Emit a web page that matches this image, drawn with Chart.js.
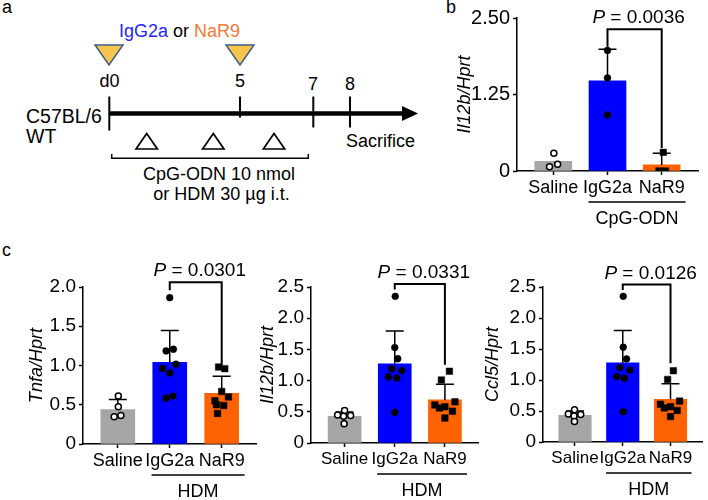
<!DOCTYPE html>
<html lang="en">
<head>
  <meta charset="UTF-8">
  <title>IgG2a vs NaR9 cytokine expression</title>
  <script src="https://cdn.jsdelivr.net/npm/chart.js"></script>
  <style>
    body { margin: 0; background: #fff; }
    #fig { position: relative; width: 708px; height: 500px; overflow: hidden; }
    #fig svg, #fig canvas { position: absolute; }
    svg text { font-family: 'Liberation Sans', Arial, sans-serif; font-size: 18px; fill: #000; }
  </style>
</head>
<body>
<div id="fig">
  <!-- panel a: protocol timeline + panel letters -->
  <svg width="708" height="500" style="left:0;top:0">
    <text x="2" y="13">a</text>
    <text x="446" y="13">b</text>
    <text x="2" y="256">c</text>

    <text x="119" y="37"><tspan fill="#2424ff">IgG2a</tspan> or <tspan fill="#f47a36">NaR9</tspan></text>
    <polygon points="95,45 123,45 109,65" fill="#f6c54c" stroke="#3e5d8c" stroke-width="1.5"/>
    <polygon points="226,45 254,45 240,65" fill="#f6c54c" stroke="#3e5d8c" stroke-width="1.5"/>

    <text x="109.5" y="87" text-anchor="middle">d0</text>
    <text x="240" y="87" text-anchor="middle">5</text>
    <text x="313" y="90" text-anchor="middle">7</text>
    <text x="350" y="90" text-anchor="middle">8</text>

    <line x1="109" y1="113.5" x2="404" y2="113.5" stroke="#000" stroke-width="4.5"/>
    <polygon points="402,106 418,113.5 402,121" fill="#000"/>
    <g stroke="#000" stroke-width="2">
      <line x1="109.3" y1="96.5" x2="109.3" y2="130.5"/>
      <line x1="240" y1="96.5" x2="240" y2="117.5"/>
      <line x1="313.3" y1="96.5" x2="313.3" y2="127.5"/>
      <line x1="350" y1="96.5" x2="350" y2="127.5"/>
    </g>

    <text x="26" y="123" style="font-size:19.5px">C57BL/6</text>
    <text x="26" y="143" style="font-size:19.5px">WT</text>
    <text x="346" y="147">Sacrifice</text>

    <g fill="none" stroke="#000" stroke-width="1.7">
      <polygon points="136,149 146.7,133.5 157.4,149"/>
      <polygon points="202.6,149 213.3,133.5 224,149"/>
      <polygon points="263.3,149 274,133.5 284.7,149"/>
      <path d="M111.7,154 V158.3 H308.3 V154" stroke-width="1.5"/>
    </g>
    <text x="219" y="180" text-anchor="middle">CpG-ODN 10 nmol</text>
    <text x="221.5" y="200" text-anchor="middle">or HDM 30 µg i.t.</text>
  </svg>

  <canvas id="chartB" width="278" height="230" style="left:430px;top:0"></canvas>
  <canvas id="chartC1" width="262" height="260" style="left:0;top:240px"></canvas>
  <canvas id="chartC2" width="244" height="260" style="left:240px;top:240px"></canvas>
  <canvas id="chartC3" width="238" height="260" style="left:470px;top:240px"></canvas>
</div>

<script>
  const groups = ['Saline', 'IgG2a', 'NaR9'];
  const barColors = ['#a6a6a6', '#0000ff', '#ff6200'];

  // b: Il12b/Hprt, CpG-ODN
  const bMean = [0.158, 1.475, 0.10];
  const bSD = [0, 0.515, 0.19];
  const bSaline = [0.29, 0.07, 0.11];
  const bSalineDx = [0.01, -0.07, 0.08];
  const bIgG2a = [1.97, 1.52, 0.915];
  const bIgG2aDx = [0, 0, 0];
  const bNaR9 = [0.305, 0.0, 0.0];
  const bNaR9Dx = [0.03, -0.05, 0.07];
  const bTickValues = [0, 1.25, 2.5];
  const bTickLabels = ['0', '1.25', '2.50'];

  // c1: Tnfa/Hprt, HDM
  const c1Mean = [0.44, 1.04, 0.645];
  const c1SD = [0.128, 0.405, 0.219];
  const c1Saline = [0.61, 0.474, 0.347, 0.364];
  const c1SalineDx = [0.01, 0.01, -0.07, 0.06];
  const c1IgG2a = [1.864, 1.186, 1.207, 0.962, 0.906, 1.017, 0.584, 0.61];
  const c1IgG2aDx = [0, -0.07, 0.07, -0.14, 0, 0.12, -0.07, 0.06];
  const c1NaR9 = [0.98, 0.96, 0.67, 0.55, 0.60, 0.49, 0.39, 0.50];
  const c1NaR9Dx = [-0.06, 0.06, 0, -0.13, 0.13, 0.04, -0.08, -0.1];
  const c1TickValues = [0, 0.5, 1, 1.5, 2];
  const c1TickLabels = ['0', '0.5', '1.0', '1.5', '2.0'];

  // c2: Il12b/Hprt, HDM
  const c2Mean = [0.426, 1.27, 0.69];
  const c2SD = [0.07, 0.525, 0.25];
  const c2Saline = [0.52, 0.45, 0.43, 0.44, 0.31];
  const c2SalineDx = [0, -0.14, -0.02, 0.12, -0.01];
  const c2IgG2a = [2.35, 1.53, 1.35, 1.19, 1.16, 1.06, 1.04, 0.49];
  const c2IgG2aDx = [0.01, 0, 0.06, -0.06, 0.14, -0.13, 0.04, 0];
  const c2NaR9 = [1.15, 1.01, 0.61, 0.56, 0.58, 0.66, 0.51, 0.40];
  const c2NaR9Dx = [0.09, -0.07, -0.2, -0.11, 0, 0.2, 0.15, 0];
  const c2TickValues = [0, 0.5, 1, 1.5, 2, 2.5];
  const c2TickLabels = ['0', '0.5', '1.0', '1.5', '2.0', '2.5'];

  // c3: Ccl5/Hprt, HDM
  const c3Mean = [0.43, 1.275, 0.69];
  const c3SD = [0.07, 0.525, 0.25];
  const c3Saline = [0.52, 0.45, 0.445, 0.42, 0.33];
  const c3SalineDx = [-0.01, -0.14, 0.12, -0.02, -0.01];
  const c3IgG2a = [2.35, 1.53, 1.34, 1.20, 1.16, 1.055, 1.03, 0.49];
  const c3IgG2aDx = [0.01, 0.01, 0.08, -0.06, 0.15, -0.13, 0.03, 0.01];
  const c3NaR9 = [1.15, 1.01, 0.61, 0.55, 0.57, 0.66, 0.51, 0.41];
  const c3NaR9Dx = [0.06, -0.06, -0.21, -0.13, 0, 0.19, 0.14, 0];
  const c3TickValues = c2TickValues;
  const c3TickLabels = c2TickLabels;

  const FONT = "'Liberation Sans', Arial, sans-serif";

  function pts(i, ys, dx) {
    return ys.map((v, k) => ({ x: i + dx[k], y: v }));
  }

  // error bars, significance bracket, group underline
  function annotations(p) {
    return {
      id: 'annot',
      afterDatasetDraw(chart, args) {
        if (chart.data.datasets[args.index].type !== 'bar') return;
        const { x, y } = chart.scales;
        const c = chart.ctx;
        c.save();
        c.strokeStyle = '#000';
        c.lineWidth = 1.5;
        p.mean.forEach((m, i) => {
          if (!p.sd[i]) return;
          const px = x.getPixelForValue(i);
          const y0 = y.getPixelForValue(m);
          const y1 = y.getPixelForValue(m + p.sd[i]);
          c.beginPath();
          c.moveTo(px, y0); c.lineTo(px, y1);
          c.moveTo(px - 9, y1); c.lineTo(px + 9, y1);
          c.stroke();
        });
        c.restore();
      },
      afterDraw(chart) {
        const { x, y } = chart.scales;
        const c = chart.ctx;
        const x1 = x.getPixelForValue(1), x2 = x.getPixelForValue(2);
        const yb = y.getPixelForValue(p.bracket[0]);
        c.save();
        c.strokeStyle = '#000';
        c.lineWidth = 2;
        c.beginPath();
        c.moveTo(x1, y.getPixelForValue(p.bracket[1]));
        c.lineTo(x1, yb);
        c.lineTo(x2, yb);
        c.lineTo(x2, y.getPixelForValue(p.bracket[2]));
        c.stroke();

        // P value
        c.fillStyle = '#000';
        c.textBaseline = 'alphabetic';
        const rest = ' = ' + p.pval;
        c.font = 'italic 19px ' + FONT;
        const w1 = c.measureText('P').width;
        c.font = '19px ' + FONT;
        const w2 = c.measureText(rest).width;
        let tx = (x1 + x2) / 2 + 4 - (w1 + w2) / 2;
        c.font = 'italic 19px ' + FONT;
        c.fillText('P', tx, yb - 6);
        c.font = '19px ' + FONT;
        c.fillText(rest, tx + w1, yb - 6);

        // treatment underline
        const base = y.getPixelForValue(0);
        const u1 = x.getPixelForValue(0.65), u2 = x.getPixelForValue(2.44);
        c.lineWidth = 1.5;
        c.beginPath();
        c.moveTo(u1, base + 31); c.lineTo(u2, base + 31);
        c.stroke();
        c.font = '18px ' + FONT;
        c.textAlign = 'center';
        c.fillText(p.group, (u1 + u2) / 2, base + 53);
        c.restore();
      }
    };
  }

  function panel(id, p) {
    const canvas = document.getElementById(id);
    return new Chart(canvas, {
      type: 'bar',
      data: {
        datasets: [
          { type: 'scatter', data: pts(0, p.saline, p.salineDx), pointStyle: 'circle', pointRadius: 3,
            backgroundColor: '#fff', borderColor: '#000', borderWidth: 1.5, order: 1 },
          { type: 'scatter', data: pts(1, p.igg, p.iggDx), pointStyle: 'circle', pointRadius: 3.4,
            backgroundColor: '#000', borderColor: '#000', borderWidth: 0.5, order: 1 },
          { type: 'scatter', data: pts(2, p.nar, p.narDx), pointStyle: 'rect', pointRadius: 4.6,
            backgroundColor: '#000', borderColor: '#000', borderWidth: 0.5, order: 1 },
          { type: 'bar', data: p.mean.map((v, i) => ({ x: i, y: v })), backgroundColor: barColors,
            borderWidth: 0, barThickness: p.barW, order: 2 }
        ]
      },
      options: {
        responsive: false,
        animation: false,
        events: [],
        layout: { padding: { left: 0, top: p.padTop, right: p.padRight, bottom: 0 } },
        plugins: { legend: { display: false }, tooltip: { enabled: false } },
        scales: {
          x: {
            type: 'linear', min: -0.67, max: 2.67, offset: false, bounds: 'data',
            afterBuildTicks: s => { s.ticks = [0, 1, 2].map(v => ({ value: v })); },
            afterFit: s => { s.height = p.xH; },
            grid: { drawOnChartArea: false, offset: false, tickLength: 4, tickWidth: 1.5, tickColor: '#000' },
            border: { color: '#000', width: 1.5 },
            ticks: { callback: v => groups[v], color: '#000', font: { size: p.labelSize, family: FONT },
                     padding: 2, maxRotation: 0, autoSkip: false }
          },
          y: {
            min: 0, max: p.tickValues[p.tickValues.length - 1],
            afterBuildTicks: s => { s.ticks = p.tickValues.map(v => ({ value: v })); },
            afterFit: s => { s.width = p.yW; },
            grid: { drawOnChartArea: false, tickLength: 4, tickWidth: 1.5, tickColor: '#000' },
            border: { color: '#000', width: 1.5 },
            ticks: { callback: v => p.tickLabels[p.tickValues.indexOf(v)], color: '#000',
                     font: { size: p.tickSize, family: FONT }, padding: 3 },
            title: { display: true, text: p.title, color: '#000',
                     font: { size: 18, style: 'italic', family: FONT }, padding: { top: p.titlePad, bottom: 0 } }
          }
        }
      },
      plugins: [annotations(p)]
    });
  }

  panel('chartB', {
    mean: bMean, sd: bSD, saline: bSaline, salineDx: bSalineDx, igg: bIgG2a, iggDx: bIgG2aDx,
    nar: bNaR9, narDx: bNaR9Dx, tickValues: bTickValues, tickLabels: bTickLabels,
    title: 'Il12b/Hprt', pval: '0.0036', group: 'CpG-ODN', bracket: [2.315, 2.03, 0.375],
    barW: 37, padTop: 18, padRight: 10, xH: 59, yW: 87, titlePad: 24, tickSize: 20, labelSize: 18
  });
  panel('chartC1', {
    mean: c1Mean, sd: c1SD, saline: c1Saline, salineDx: c1SalineDx, igg: c1IgG2a, iggDx: c1IgG2aDx,
    nar: c1NaR9, narDx: c1NaR9Dx, tickValues: c1TickValues, tickLabels: c1TickLabels,
    title: 'Tnfa/Hprt', pval: '0.0301', group: 'HDM', bracket: [2.06, 1.96, 1.0],
    barW: 34, padTop: 47, padRight: 4, xH: 56, yW: 83, titlePad: 26, tickSize: 19, labelSize: 18
  });
  panel('chartC2', {
    mean: c2Mean, sd: c2SD, saline: c2Saline, salineDx: c2SalineDx, igg: c2IgG2a, iggDx: c2IgG2aDx,
    nar: c2NaR9, narDx: c2NaR9Dx, tickValues: c2TickValues, tickLabels: c2TickLabels,
    title: 'Il12b/Hprt', pval: '0.0331', group: 'HDM', bracket: [2.55, 2.46, 1.255],
    barW: 33, padTop: 47, padRight: 4, xH: 57, yW: 71, titlePad: 17, tickSize: 19, labelSize: 17
  });
  panel('chartC3', {
    mean: c3Mean, sd: c3SD, saline: c3Saline, salineDx: c3SalineDx, igg: c3IgG2a, iggDx: c3IgG2aDx,
    nar: c3NaR9, narDx: c3NaR9Dx, tickValues: c3TickValues, tickLabels: c3TickLabels,
    title: 'Ccl5/Hprt', pval: '0.0126', group: 'HDM', bracket: [2.54, 2.45, 1.27],
    barW: 32.5, padTop: 47, padRight: 2, xH: 58, yW: 73, titlePad: 12, tickSize: 19, labelSize: 17
  });
</script>
</body>
</html>
